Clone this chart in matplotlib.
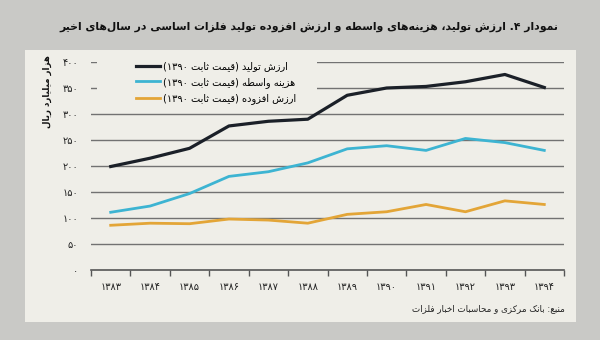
import matplotlib
matplotlib.use("Agg")
import matplotlib.pyplot as plt

plt.rcParams['font.family'] = ['DejaVu Sans']

# --- data ---
years = ["۱۳۸۳", "۱۳۸۴", "۱۳۸۵", "۱۳۸۶", "۱۳۸۷", "۱۳۸۸",
         "۱۳۸۹", "۱۳۹۰", "۱۳۹۱", "۱۳۹۲", "۱۳۹۳", "۱۳۹۴"]
production = [199, 215, 234, 277, 286, 290, 336, 350, 353, 362, 376, 351]
intermediate = [111, 123, 147, 180, 189, 206, 233, 239, 230, 253, 245, 230]
value_added = [86, 90, 89, 98, 96, 90, 107, 112, 126, 112, 133, 126]
yticks = [0, 50, 100, 150, 200, 250, 300, 350, 400]
ytick_labels = ["۰", "۵۰", "۱۰۰", "۱۵۰", "۲۰۰", "۲۵۰", "۳۰۰", "۳۵۰", "۴۰۰"]

title = "نمودار ۴. ارزش تولید، هزینه‌های واسطه و ارزش افزوده تولید فلزات اساسی در سال‌های اخیر"
ylabel = "هزار میلیارد ریال"
labels = ["ارزش تولید (قیمت ثابت ۱۳۹۰)",
          "هزینه واسطه (قیمت ثابت ۱۳۹۰)",
          "ارزش افزوده (قیمت ثابت ۱۳۹۰)"]
source = "منبع: بانک مرکزی و محاسبات اخبار فلزات"

# --- minimal arabic/persian shaping, matplotlib has no bidi ---
FORMS = {  # isolated, final, initial, medial
    'ا': (0xFE8D, 0xFE8E), 'آ': (0xFE81, 0xFE82), 'د': (0xFEA9, 0xFEAA),
    'ذ': (0xFEAB, 0xFEAC), 'ر': (0xFEAD, 0xFEAE), 'ز': (0xFEAF, 0xFEB0),
    'و': (0xFEED, 0xFEEE), 'ژ': (0xFB8A, 0xFB8B),
    'ب': (0xFE8F, 0xFE90, 0xFE91, 0xFE92), 'ت': (0xFE95, 0xFE96, 0xFE97, 0xFE98),
    'ث': (0xFE99, 0xFE9A, 0xFE9B, 0xFE9C), 'ج': (0xFE9D, 0xFE9E, 0xFE9F, 0xFEA0),
    'ح': (0xFEA1, 0xFEA2, 0xFEA3, 0xFEA4), 'خ': (0xFEA5, 0xFEA6, 0xFEA7, 0xFEA8),
    'س': (0xFEB1, 0xFEB2, 0xFEB3, 0xFEB4), 'ش': (0xFEB5, 0xFEB6, 0xFEB7, 0xFEB8),
    'ص': (0xFEB9, 0xFEBA, 0xFEBB, 0xFEBC), 'ط': (0xFEC1, 0xFEC2, 0xFEC3, 0xFEC4),
    'ع': (0xFEC9, 0xFECA, 0xFECB, 0xFECC), 'ف': (0xFED1, 0xFED2, 0xFED3, 0xFED4),
    'ق': (0xFED5, 0xFED6, 0xFED7, 0xFED8), 'ک': (0xFB8E, 0xFB8F, 0xFB90, 0xFB91),
    'گ': (0xFB92, 0xFB93, 0xFB94, 0xFB95), 'ل': (0xFEDD, 0xFEDE, 0xFEDF, 0xFEE0),
    'م': (0xFEE1, 0xFEE2, 0xFEE3, 0xFEE4), 'ن': (0xFEE5, 0xFEE6, 0xFEE7, 0xFEE8),
    'ه': (0xFEE9, 0xFEEA, 0xFEEB, 0xFEEC), 'ی': (0xFBFC, 0xFBFD, 0xFBFE, 0xFBFF),
    'پ': (0xFB56, 0xFB57, 0xFB58, 0xFB59), 'چ': (0xFB7A, 0xFB7B, 0xFB7C, 0xFB7D),
}
DIGITS = set("0123456789۰۱۲۳۴۵۶۷۸۹")


def fa(s):
    chars = list(s)
    out = []
    for i, c in enumerate(chars):
        if c not in FORMS:
            if c != '\u200c':
                out.append(c)
            continue
        prev = chars[i - 1] if i > 0 else ''
        nxt = chars[i + 1] if i + 1 < len(chars) else ''
        jp = prev in FORMS and len(FORMS[prev]) == 4
        jn = len(FORMS[c]) == 4 and nxt in FORMS
        f = FORMS[c]
        if jp and jn:
            out.append(chr(f[3]))
        elif jp:
            out.append(chr(f[1]))
        elif jn:
            out.append(chr(f[2]))
        else:
            out.append(chr(f[0]))
    # visual order: reverse, keep number runs left-to-right, mirror brackets
    out = out[::-1]
    res, run = [], []
    for c in out:
        if c in DIGITS:
            run.append(c)
        else:
            res.extend(run[::-1])
            run = []
            res.append({'(': ')', ')': '('}.get(c, c))
    res.extend(run[::-1])
    return ''.join(res)


outer_bg = "#c9c9c6"
panel_bg = "#efeee8"
grid_col = "#727272"
c_prod = "#1b2028"
c_inter = "#3db4d2"
c_va = "#e3a537"

fig = plt.figure(figsize=(6, 3.4), dpi=100)
fig.patch.set_facecolor(outer_bg)

# light panel behind the chart
W, H = 600, 340
panel = plt.Rectangle((25 / W, 1 - 322 / H), 551 / W, 272 / H,
                      transform=fig.transFigure, facecolor=panel_bg,
                      edgecolor='none', zorder=-5)
fig.patches.append(panel)

ax = fig.add_axes([91 / W, 1 - 270 / H, 473 / W, 208 / H])
ax.set_facecolor('none')
x = range(len(years))
ax.plot(x, production, color=c_prod, lw=2.3, label=fa(labels[0]), zorder=3)
ax.plot(x, intermediate, color=c_inter, lw=2.0, label=fa(labels[1]), zorder=3)
ax.plot(x, value_added, color=c_va, lw=2.0, label=fa(labels[2]), zorder=3)

ax.set_xlim(-0.5, len(years) - 0.5)
ax.set_ylim(0, 400)
ax.set_yticks(yticks)
ax.set_yticklabels(ytick_labels, fontsize=7, color="#222")
ax.tick_params(axis='y', length=0, pad=9)
for v in yticks[1:]:
    ax.axhline(v, color=grid_col, lw=1.0, zorder=1)

# blank area behind the legend, hides the top gridlines there
ax.add_patch(plt.Rectangle((6 / 473, 1 - 50 / 208), 220 / 473, 58 / 208,
                           transform=ax.transAxes, facecolor=panel_bg,
                           edgecolor='none', zorder=2, clip_on=False))

ax.set_xticks([i - 0.5 for i in range(len(years) + 1)], minor=False)
ax.set_xticklabels([])
ax.set_xticks(list(x), minor=True)
ax.set_xticklabels(years, minor=True, fontsize=7, color="#222")
ax.tick_params(axis='x', which='major', length=4, color="#555", width=1)
ax.tick_params(axis='x', which='minor', length=0, pad=9)

for sp in ['top', 'right', 'left']:
    ax.spines[sp].set_visible(False)
ax.spines['bottom'].set_color("#555")
ax.spines['bottom'].set_linewidth(1.2)

leg = ax.legend(loc='upper left', bbox_to_anchor=(0.078, 1.04), frameon=False,
                fontsize=7, handlelength=2.5, handletextpad=0.3,
                labelspacing=0.55, borderpad=0.3)
leg.set_zorder(5)

fig.text(558 / W, 1 - 27 / H, fa(title), ha='right', va='center',
         fontsize=7.8, fontweight='bold', color="#111")
fig.text(47 / W, 1 - 92 / H, fa(ylabel), ha='center', va='center',
         rotation=90, fontsize=6.2, fontweight='bold', color="#111")
fig.text(565 / W, 1 - 309 / H, fa(source), ha='right', va='center',
         fontsize=6.3, color="#222")

fig.savefig("out.png", dpi=100, facecolor=outer_bg)
